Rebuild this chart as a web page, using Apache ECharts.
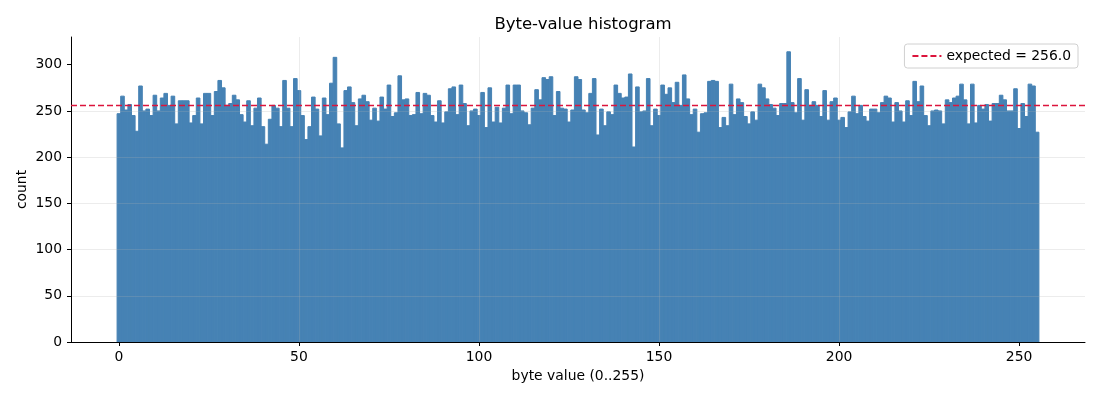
<!DOCTYPE html>
<html>
<head>
<meta charset="utf-8">
<script src="https://cdn.jsdelivr.net/npm/echarts@6/dist/echarts.min.js"></script>
<style>
html, body { margin: 0; padding: 0; background: #fff; }
#chart { width: 1100px; height: 400px; }
</style>
</head>
<body>
<div id="chart"></div>
<script>
// counts per byte value (index = byte value)
const counts = [
    247, 266, 251, 257, 245, 228, 277, 250, 252, 245, 267, 250, 264, 269, 256, 266,
    236, 261, 261, 261, 237, 245, 264, 236, 269, 269, 245, 271, 283, 275, 256, 258,
    267, 262, 246, 238, 261, 234, 253, 264, 233, 214, 241, 256, 253, 233, 283, 253,
    233, 285, 272, 245, 219, 233, 265, 252, 223, 264, 246, 280, 308, 236, 210, 272,
    276, 259, 234, 263, 267, 260, 240, 253, 239, 265, 252, 278, 244, 248, 288, 262,
    263, 245, 246, 270, 247, 269, 267, 245, 238, 261, 237, 249, 274, 276, 246, 278,
    258, 234, 250, 252, 245, 270, 232, 275, 238, 254, 237, 253, 278, 247, 278, 278,
    250, 248, 235, 253, 273, 262, 286, 284, 287, 245, 271, 253, 252, 238, 251, 287,
    284, 251, 248, 269, 285, 224, 252, 234, 249, 246, 278, 269, 264, 265, 290, 211,
    276, 249, 250, 285, 234, 252, 245, 278, 268, 275, 259, 281, 256, 289, 263, 246,
    252, 227, 247, 248, 282, 283, 282, 232, 243, 234, 279, 246, 263, 259, 244, 236,
    249, 240, 279, 275, 263, 257, 253, 245, 258, 258, 314, 259, 248, 285, 240, 273,
    256, 260, 256, 244, 272, 240, 260, 264, 240, 243, 232, 249, 266, 247, 256, 244,
    239, 252, 252, 248, 259, 266, 264, 238, 259, 250, 238, 261, 245, 282, 260, 277,
    245, 234, 250, 251, 250, 236, 262, 259, 264, 266, 279, 262, 236, 279, 237, 256,
    252, 257, 239, 258, 258, 267, 262, 250, 250, 274, 231, 258, 244, 279, 277, 227
];
const expected = 256.0;
const xTicks = [0, 50, 100, 150, 200, 250];
const yTicks = [0, 50, 100, 150, 200, 250, 300];

const xMin = -13.3;
const xMax = 268.3;

const bars = counts.map((c, i) => [i, c]);

const myChart = echarts.init(document.getElementById('chart'));
const font = 'DejaVu Sans';
const gridLine = { color: 'rgba(176,176,176,0.3)', width: 0.8 };

const option = {
    animation: false,
    textStyle: { fontFamily: font },
    title: {
        text: 'Byte-value histogram',
        left: 578,
        top: 11,
        textAlign: 'center',
        textStyle: { fontFamily: font, fontSize: 16.5, fontWeight: 'normal', color: '#000' }
    },
    legend: {
        right: 22,
        top: 44,
        padding: [5, 7, 5, 7],
        itemWidth: 29,
        itemHeight: 14,
        itemGap: 8,
        backgroundColor: 'rgba(255,255,255,0.8)',
        borderColor: '#d0d0d0',
        borderWidth: 1,
        borderRadius: 3,
        itemStyle: { opacity: 0 },
        textStyle: { fontFamily: font, fontSize: 13.9, color: '#000' },
        data: ['expected = 256.0']
    },
    grid: { left: 71, right: 15, top: 37, bottom: 58, containLabel: false },
    xAxis: {
        type: 'value',
        min: xMin,
        max: xMax,
        z: 3,
        name: 'byte value (0..255)',
        nameLocation: 'middle',
        nameGap: 27,
        nameTextStyle: { fontFamily: font, fontSize: 13.9, color: '#000' },
        axisLine: { show: true, onZero: false, lineStyle: { color: '#000', width: 1 } },
        axisTick: { show: true, length: 4, customValues: xTicks, lineStyle: { color: '#000' } },
        axisLabel: { customValues: xTicks, margin: 8, fontSize: 13.9, color: '#000', fontFamily: font },
        splitLine: { show: true, showMinLine: false, showMaxLine: false, lineStyle: gridLine }
    },
    yAxis: {
        type: 'value',
        min: 0,
        max: 330,
        z: 3,
        name: 'count',
        nameLocation: 'middle',
        nameGap: 42,
        nameMoveOverlap: false,
        nameTextStyle: { fontFamily: font, fontSize: 13.9, color: '#000' },
        axisLine: { show: true, onZero: false, lineStyle: { color: '#000', width: 1 } },
        axisTick: { show: true, length: 4, customValues: yTicks, lineStyle: { color: '#000' } },
        axisLabel: { customValues: yTicks, margin: 9, fontSize: 13.9, color: '#000', fontFamily: font },
        splitLine: { show: true, showMinLine: false, showMaxLine: false, lineStyle: gridLine }
    },
    series: [
        {
            name: 'counts',
            type: 'custom',
            data: bars,
            z: 1,
            renderItem: (params, api) => {
                const x = api.value(0);
                const y = api.value(1);
                const p0 = api.coord([x - 0.5, 0]);
                const p1 = api.coord([x + 0.5, y]);
                return {
                    type: 'rect',
                    shape: { x: p0[0], y: p1[1], width: p1[0] - p0[0], height: p0[1] - p1[1] },
                    style: { fill: '#4682b4', stroke: '#4682b4', lineWidth: 1 }
                };
            }
        },
        {
            name: 'expected = 256.0',
            type: 'line',
            data: [[xMin, expected], [xMax, expected]],
            symbol: 'none',
            z: 4,
            color: '#dc143c',
            lineStyle: { color: '#dc143c', width: 1.5, type: [6, 3] }
        }
    ]
};

myChart.setOption(option);
</script>
</body>
</html>
